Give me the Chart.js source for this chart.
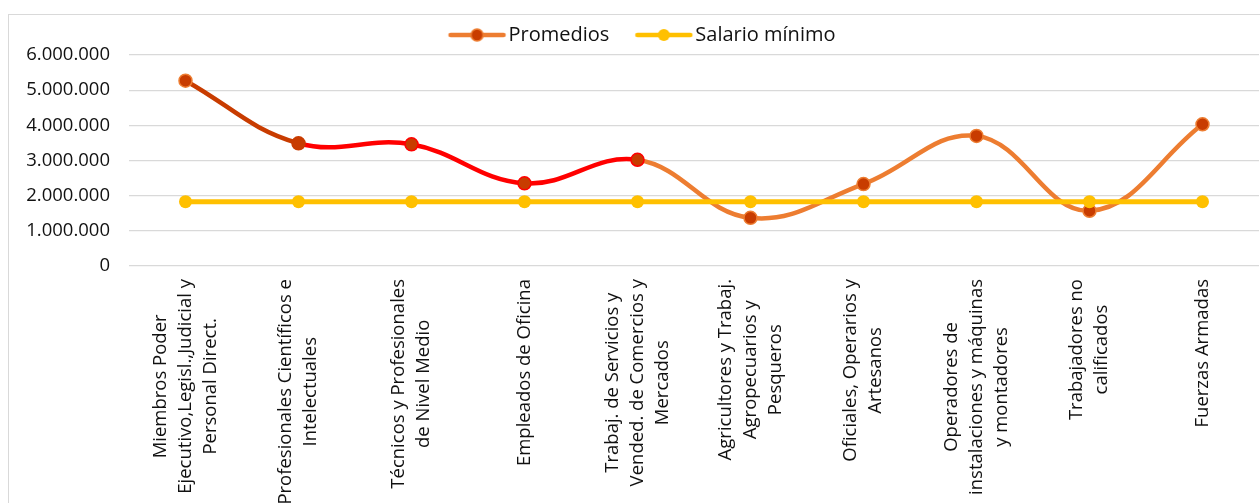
<!DOCTYPE html>
<html>
<head>
<meta charset="utf-8">
<script src="https://cdn.jsdelivr.net/npm/chart.js@4/dist/chart.umd.min.js"></script>
<style>
  html, body { margin: 0; padding: 0; background: #fff; overflow: hidden; }
  #frame {
    position: absolute; left: 8px; top: 14px;
    width: 1275px; height: 489px;
    border: 1px solid #d9d9d9;
  }
  #box { position: relative; width: 1272px; height: 488px; }
</style>
</head>
<body>
<div id="frame"><div id="box"><canvas id="chart"></canvas></div></div>
<script>
// categories, one line per array item
const categories = [
    ["Miembros Poder", "Ejecutivo,Legisl.,Judicial y", "Personal Direct."],
    ["Profesionales Científicos e", "Intelectuales"],
    ["Técnicos y Profesionales", "de Nivel Medio"],
    ["Empleados de Oficina"],
    ["Trabaj. de Servicios y", "Vended. de Comercios y", "Mercados"],
    ["Agricultores y Trabaj.", "Agropecuarios y", "Pesqueros"],
    ["Oficiales, Operarios y", "Artesanos"],
    ["Operadores de", "instalaciones y máquinas", "y montadores"],
    ["Trabajadores no", "calificados"],
    ["Fuerzas Armadas"],
];
const promedios = [5270000, 3490000, 3460000, 2350000, 3020000, 1370000, 2330000, 3700000, 1570000, 4030000];
const salarioMinimo = [1830000, 1830000, 1830000, 1830000, 1830000, 1830000, 1830000, 1830000, 1830000, 1830000];
const yTicks = [0, 1000000, 2000000, 3000000, 4000000, 5000000, 6000000];

const ORANGE = '#ED7D31';
const DARK = '#C83C00';
const RED = '#FF0000';
const YELLOW = '#FFC000';
const TEXT = '#111111';
const FONT = '"Open Sans", "Noto Sans", sans-serif';

function fmt(v) {
    return String(v).replace(/\B(?=(\d{3})+(?!\d))/g, '.');
}

// segment / marker colours for the Promedios line
function segColor(i) {
    if (i === 0) return DARK;
    if (i < 4) return RED;
    return ORANGE;
}
function markerBorder(i) {
    if (i === 1) return DARK;
    if (i >= 2 && i <= 4) return RED;
    return ORANGE;
}

// legend sample: line with a dot in the middle
function legendSample(lineColor, fill, border) {
    const c = document.createElement('canvas');
    c.width = 86;
    c.height = 18;
    const g = c.getContext('2d');
    g.strokeStyle = lineColor;
    g.lineWidth = 4.5;
    g.lineCap = 'round';
    g.beginPath();
    g.moveTo(28, 9);
    g.lineTo(81, 9);
    g.stroke();
    g.beginPath();
    g.arc(54.5, 9, 6, 0, Math.PI * 2);
    g.fillStyle = fill;
    g.fill();
    if (border) {
        g.lineWidth = 1.5;
        g.strokeStyle = border;
        g.stroke();
    }
    return c;
}

const xLabels = {
    id: 'xLabels',
    afterDraw(chart) {
        const { ctx, chartArea, scales: { x } } = chart;
        ctx.save();
        ctx.font = '18.5px ' + FONT;
        ctx.fillStyle = TEXT;
        ctx.textAlign = 'center';
        ctx.textBaseline = 'middle';
        categories.forEach((lines, i) => {
            const px = x.getPixelForValue(i);
            const w = Math.max(...lines.map(l => ctx.measureText(l).width));
            ctx.save();
            ctx.translate(px, chartArea.bottom + 13);
            ctx.rotate(-Math.PI / 2);
            lines.forEach((l, j) => {
                ctx.fillText(l, -w / 2, (j - (lines.length - 1) / 2) * 25);
            });
            ctx.restore();
        });
        ctx.restore();
    }
};

new Chart(document.getElementById('chart'), {
    type: 'line',
    data: {
        labels: categories,
        datasets: [
            {
                label: 'Promedios',
                data: promedios,
                borderColor: ORANGE,
                borderWidth: 4.5,
                borderCapStyle: 'round',
                tension: 0.4,
                segment: { borderColor: c => segColor(c.p0DataIndex) },
                pointRadius: 6.5,
                pointBorderWidth: 1.5,
                pointBackgroundColor: DARK,
                pointBorderColor: promedios.map((_, i) => markerBorder(i)),
                order: 1,
            },
            {
                label: 'Salario mínimo',
                data: salarioMinimo,
                borderColor: YELLOW,
                borderWidth: 5,
                borderCapStyle: 'round',
                tension: 0.4,
                pointRadius: 6.5,
                pointBorderWidth: 0,
                pointBackgroundColor: YELLOW,
                order: 0,
            },
        ],
    },
    options: {
        responsive: true,
        maintainAspectRatio: false,
        animation: false,
        layout: { padding: { top: 0, left: 0, right: 22, bottom: 0 } },
        plugins: {
            tooltip: { enabled: false },
            legend: {
                position: 'top',
                labels: {
                    usePointStyle: true,
                    pointStyleWidth: 66,
                    padding: 10,
                    color: TEXT,
                    font: { family: FONT, size: 20 },
                    generateLabels: () => [
                        { text: 'Promedios', datasetIndex: 0, fontColor: TEXT, lineWidth: 0,
                          pointStyle: legendSample(ORANGE, DARK, ORANGE) },
                        { text: 'Salario mínimo', datasetIndex: 1, fontColor: TEXT, lineWidth: 0,
                          pointStyle: legendSample(YELLOW, YELLOW, null) },
                    ],
                },
            },
        },
        scales: {
            x: {
                offset: true,
                grid: { display: false, offset: true },
                border: { display: false },
                ticks: { display: false },
                afterFit: s => { s.height = 237; },
            },
            y: {
                min: 0,
                max: 6000000,
                afterBuildTicks: s => { s.ticks = yTicks.map(v => ({ value: v })); },
                grid: { color: '#d9d9d9', lineWidth: 1.2, drawTicks: false },
                border: { display: false },
                ticks: {
                    padding: 19,
                    color: TEXT,
                    font: { family: FONT, size: 18.5 },
                    callback: v => fmt(v),
                },
                afterFit: s => { s.width = 120; },
            },
        },
    },
    plugins: [xLabels],
});
</script>
</body>
</html>
